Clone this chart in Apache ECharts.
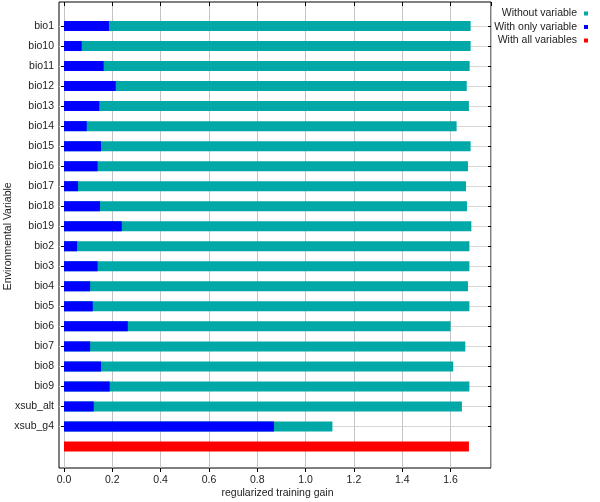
<!DOCTYPE html>
<html>
<head>
<meta charset="utf-8">
<script src="https://cdn.jsdelivr.net/npm/echarts@6/dist/echarts.min.js"></script>
<style>html,body{margin:0;padding:0;background:#fff}#c{width:600px;height:502px}</style>
</head>
<body>
<div id="c"></div>
<script>
const categories = ['bio1','bio10','bio11','bio12','bio13','bio14','bio15','bio16','bio17','bio18','bio19','bio2','bio3','bio4','bio5','bio6','bio7','bio8','bio9','xsub_alt','xsub_g4',''];
const withoutVariable = [1.683,1.683,1.679,1.667,1.676,1.625,1.683,1.672,1.664,1.668,1.686,1.678,1.678,1.672,1.678,1.600,1.661,1.611,1.678,1.647,1.111,null];
const withOnlyVariable = [0.186,0.073,0.164,0.214,0.146,0.094,0.153,0.139,0.058,0.149,0.239,0.054,0.139,0.108,0.119,0.264,0.108,0.153,0.189,0.123,0.869,null];
const withAllVariables = [null,null,null,null,null,null,null,null,null,null,null,null,null,null,null,null,null,null,null,null,null,1.676];
const xTicks = ['0.0','0.2','0.4','0.6','0.8','1.0','1.2','1.4','1.6'];

const FONT = 'Liberation Sans';
const FS = 10.5;
const XMAX = 1.7674;
const XMIN_FRAME = -0.0207;
const chart = echarts.init(document.getElementById('c'), null, {renderer:'canvas'});
const hasName = (i, v) => v !== '';
chart.setOption({
  animation: false,
  textStyle: {fontFamily: FONT},
  legend: {
    orient: 'vertical', right: 12, top: 8, align: 'right', padding: 0,
    itemWidth: 4, itemHeight: 4, itemGap: 2.5, icon: 'rect',
    textStyle: {fontSize: FS, color: '#222', fontFamily: FONT, padding: [0,2,0,0]},
    data: ['Without variable','With only variable','With all variables']
  },
  grid: [
    {left: 59, right: 109, top: 2, bottom: 34, show: true, borderColor: '#000', borderWidth: 1, backgroundColor: 'transparent', outerBoundsMode: 'none', containLabel: false},
    {left: 64, right: 109, top: 2, bottom: 34, outerBoundsMode: 'none', containLabel: false},
    {left: 59, right: 109, top: 16, bottom: 45.5, outerBoundsMode: 'none', containLabel: false}
  ],
  xAxis: [
    {gridIndex: 0, type: 'value', min: 0, max: 1, show: false},
    {gridIndex: 1, type: 'value', min: 0, max: XMAX, interval: 0.2, position: 'bottom',
     axisLine: {show: false},
     axisTick: {show: true, length: 4, lineStyle: {color: '#000'}},
     axisLabel: {show: true, fontSize: FS, color: '#222', margin: 7, showMaxLabel: false,
       formatter: v => { const i = Math.round(v / 0.2); return (Math.abs(v - i*0.2) < 1e-6 && i < xTicks.length) ? xTicks[i] : ''; }},
     splitLine: {show: true, lineStyle: {color: '#c4c4c4', width: 1}},
     name: 'regularized training gain', nameLocation: 'middle', nameGap: 20, nameMoveOverlap: false,
     nameTextStyle: {fontSize: FS, color: '#222', verticalAlign: 'top'}},
    {gridIndex: 1, type: 'value', min: 0, max: XMAX, interval: 0.2, position: 'top',
     axisLine: {show: false},
     axisTick: {show: true, inside: true, length: 4, lineStyle: {color: '#000'}},
     axisLabel: {show: false}, splitLine: {show: false}},
    {gridIndex: 2, type: 'value', min: XMIN_FRAME, max: XMAX, show: false}
  ],
  yAxis: [
    {gridIndex: 0, type: 'value', min: 0, max: 1, show: false},
    {gridIndex: 1, type: 'value', min: 0, max: 1, show: false},
    {gridIndex: 2, type: 'category', data: categories, inverse: true, position: 'left',
     axisLine: {show: false},
     axisTick: {show: true, alignWithLabel: true, length: 3, interval: hasName, lineStyle: {color: '#000'}},
     axisLabel: {fontSize: FS, color: '#222', margin: 5, interval: 0},
     splitLine: {show: true, alignWithLabel: true, interval: hasName, lineStyle: {color: '#d8d8d8', width: 1}},
     name: 'Environmental Variable', nameLocation: 'middle', nameGap: 45, nameRotate: 90, nameMoveOverlap: false,
     nameTextStyle: {fontSize: FS, color: '#222'}},
    {gridIndex: 2, type: 'category', data: categories, inverse: true, position: 'right',
     axisLine: {show: false},
     axisTick: {show: true, alignWithLabel: true, inside: true, length: 3, interval: hasName, lineStyle: {color: '#000'}},
     axisLabel: {show: false}, splitLine: {show: false}}
  ],
  series: [
    {name: 'Without variable', type: 'bar', xAxisIndex: 3, yAxisIndex: 2, data: withoutVariable,
     barWidth: 10, barGap: '-100%', itemStyle: {color: '#00a8a8'}, z: 3},
    {name: 'With only variable', type: 'bar', xAxisIndex: 3, yAxisIndex: 2, data: withOnlyVariable,
     barWidth: 10, barGap: '-100%', itemStyle: {color: '#0000ff'}, z: 4},
    {name: 'With all variables', type: 'bar', xAxisIndex: 3, yAxisIndex: 2, data: withAllVariables,
     barWidth: 10, barGap: '-100%', itemStyle: {color: '#ff0000'}, z: 4}
  ]
});
</script>
</body>
</html>
